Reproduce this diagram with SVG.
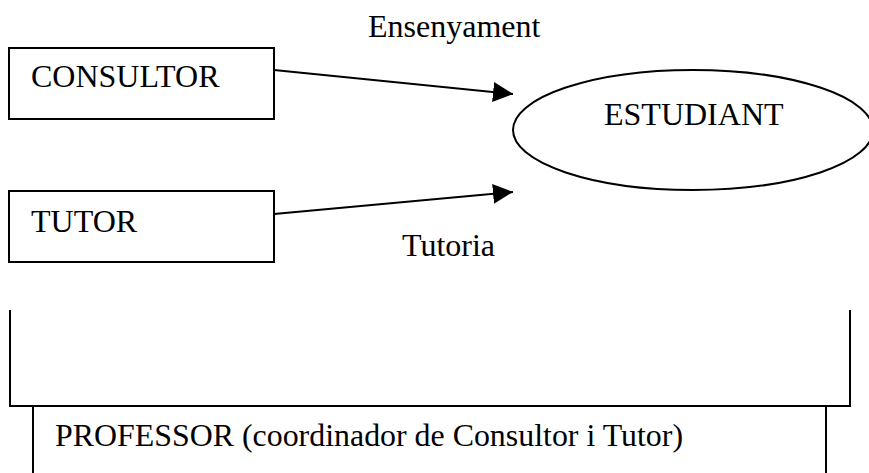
<svg xmlns="http://www.w3.org/2000/svg" width="869" height="473" viewBox="0 0 869 473">
<style>
.box{fill:#fff;stroke:#000;stroke-width:2}
.ln{fill:none;stroke:#000;stroke-width:2}
.t{font-family:'Liberation Serif','DejaVu Serif',serif;font-size:32px;fill:#000}
</style>
<defs>
<marker id="arr" markerWidth="20" markerHeight="20" refX="20" refY="10" orient="auto" markerUnits="userSpaceOnUse">
<path d="M0,0 L20,10 L0,20 Z" fill="#000"/>
</marker>
</defs>
<rect width="869" height="473" fill="#fff"/>
<g id="connectors">
<line class="ln" x1="274" y1="70" x2="513" y2="94" marker-end="url(#arr)"/>
<line class="ln" x1="274" y1="214" x2="513" y2="192" marker-end="url(#arr)"/>
<text class="t" x="368" y="37" font-family="Liberation Serif">Ensenyament</text>
<text class="t" x="402" y="256" font-family="Liberation Serif">Tutoria</text>
</g>
<g id="consultor">
<rect class="box" x="9" y="48" width="265" height="71"/>
<text class="t" x="31" y="87" font-family="Liberation Serif">CONSULTOR</text>
</g>
<g id="tutor">
<rect class="box" x="9" y="191" width="265" height="71"/>
<text class="t" x="31" y="232" font-family="Liberation Serif">TUTOR</text>
</g>
<g id="estudiant">
<ellipse class="box" cx="693" cy="130" rx="180" ry="60"/>
<text class="t" x="604" y="125" font-family="Liberation Serif">ESTUDIANT</text>
</g>
<g id="coordination">
<path class="ln" d="M10,310 V406 H850 V310"/>
</g>
<g id="professor">
<path class="ln" d="M33,406 V480 M826,406 V480"/>
<text class="t" x="55" y="446" font-family="Liberation Serif" textLength="628" lengthAdjust="spacingAndGlyphs">PROFESSOR (coordinador de Consultor i Tutor)</text>
</g>
</svg>
